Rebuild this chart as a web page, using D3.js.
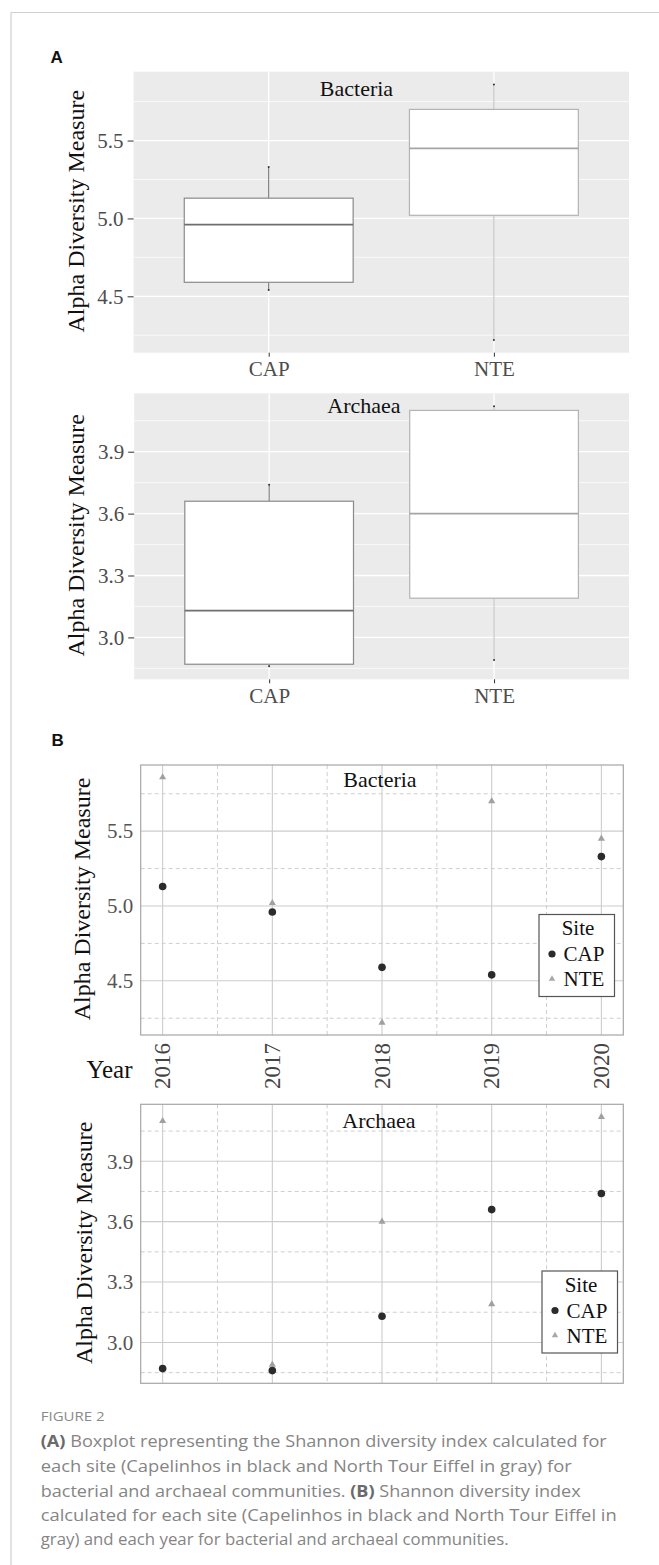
<!DOCTYPE html>
<html>
<head>
<meta charset="utf-8">
<script src="https://cdn.jsdelivr.net/npm/d3@7"></script>
<style>
  html, body { margin: 0; padding: 0; background: #ffffff; }
  svg { display: block; }
</style>
</head>
<body>
<svg id="chart" width="659" height="1565"></svg>
<script>
// ---------------- data ----------------
const years = [2016, 2017, 2018, 2019, 2020];
const sites = ["CAP", "NTE"];
const bacteriaCAP = [5.13, 4.96, 4.59, 4.54, 5.33];
const bacteriaNTE = [5.86, 5.02, 4.22, 5.70, 5.45];
const archaeaCAP = [2.87, 2.86, 3.13, 3.66, 3.74];
const archaeaNTE = [4.10, 2.89, 3.60, 3.19, 4.12];
const bacteriaTicks = [4.5, 5.0, 5.5];
const archaeaTicks = [3.0, 3.3, 3.6, 3.9];
const panelTitles = ["Bacteria", "Archaea"];
const yTitle = "Alpha Diversity Measure";
const xTitleB = "Year";
const legendTitle = "Site";
const captionHead = "FIGURE 2";
const captionLines = [
  [["(A)", true], [" Boxplot representing the Shannon diversity index calculated for", false]],
  [["each site (Capelinhos in black and North Tour Eiffel in gray) for", false]],
  [["bacterial and archaeal communities. ", false], ["(B)", true], [" Shannon diversity index", false]],
  [["calculated for each site (Capelinhos in black and North Tour Eiffel in", false]],
  [["gray) and each year for bacterial and archaeal communities.", false]]
];

// ---------------- helpers ----------------
const svg = d3.select("#chart");
const SERIF = "'Liberation Serif', 'Times New Roman', serif";
const SANS = "'Liberation Sans', Arial, sans-serif";

function expandedDomain(arrs) {
  const all = arrs.flat();
  const [lo, hi] = d3.extent(all);
  const pad = (hi - lo) * 0.05;
  return [lo - pad, hi + pad];
}
function minorTicks(ticks, domain) {
  const step = ticks[1] - ticks[0];
  const m = ticks.map(t => t - step / 2).concat([ticks[ticks.length - 1] + step / 2]);
  return m.filter(v => v > domain[0] && v < domain[1]);
}
function boxStats(vals) {
  const s = vals.slice().sort(d3.ascending);
  const q1 = d3.quantile(s, 0.25), med = d3.quantile(s, 0.5), q3 = d3.quantile(s, 0.75);
  const iqr = q3 - q1;
  const lo = d3.min(s.filter(v => v >= q1 - 1.5 * iqr));
  const hi = d3.max(s.filter(v => v <= q3 + 1.5 * iqr));
  return { q1, med, q3, lo, hi };
}

// ---------------- outer frame ----------------
svg.append("line").attr("x1", 11).attr("x2", 659).attr("y1", 12.5).attr("y2", 12.5)
  .attr("stroke", "#cfcfcf").attr("stroke-width", 1.2);
svg.append("line").attr("x1", 11).attr("x2", 11).attr("y1", 12.5).attr("y2", 1565)
  .attr("stroke", "#cfcfcf").attr("stroke-width", 1.2);

// panel letters
svg.append("text").attr("x", 50.5).attr("y", 62.5).text("A")
  .attr("font-family", SANS).attr("font-weight", "bold").attr("font-size", 17).attr("fill", "#111");
svg.append("text").attr("x", 51.5).attr("y", 746).text("B")
  .attr("font-family", SANS).attr("font-weight", "bold").attr("font-size", 17).attr("fill", "#111");

// ---------------- boxplots (A) ----------------
function boxPanel(cfg) {
  const { x0, x1, y0, y1, cap, nte, ticks, title, titleX, titleY } = cfg;
  const dom = expandedDomain([cap, nte]);
  const y = d3.scaleLinear().domain(dom).range([y1, y0]);
  const x = d3.scalePoint().domain(sites).range([x0, x1]).padding(0.6);
  const g = svg.append("g");
  g.append("rect").attr("x", x0).attr("y", y0).attr("width", x1 - x0).attr("height", y1 - y0).attr("fill", "#ebebeb");
  // minor grid
  g.selectAll(".mn").data(minorTicks(ticks, dom)).join("line")
    .attr("x1", x0).attr("x2", x1).attr("y1", d => y(d)).attr("y2", d => y(d))
    .attr("stroke", "#fff").attr("stroke-width", 0.7);
  g.selectAll(".mj").data(ticks).join("line")
    .attr("x1", x0).attr("x2", x1).attr("y1", d => y(d)).attr("y2", d => y(d))
    .attr("stroke", "#fff").attr("stroke-width", 1.3);
  g.selectAll(".vx").data(sites).join("line")
    .attr("x1", d => x(d)).attr("x2", d => x(d)).attr("y1", y0).attr("y2", y1)
    .attr("stroke", "#fff").attr("stroke-width", 1.3);

  const bw = x.step() * 0.75;
  const series = [
    { site: "CAP", vals: cap, box: "#8a8a8a", med: "#6e6e6e", wh: "#6a6a6a" },
    { site: "NTE", vals: nte, box: "#b3b3b3", med: "#a5a5a5", wh: "#b8b8b8" }
  ];
  series.forEach(s => {
    const st = boxStats(s.vals);
    const cx = x(s.site);
    g.append("line").attr("x1", cx).attr("x2", cx).attr("y1", y(st.hi)).attr("y2", y(st.q3))
      .attr("stroke", s.wh).attr("stroke-width", 1);
    g.append("line").attr("x1", cx).attr("x2", cx).attr("y1", y(st.q1)).attr("y2", y(st.lo))
      .attr("stroke", s.wh).attr("stroke-width", 1);
    g.append("rect").attr("x", cx - bw / 2).attr("y", y(st.q3)).attr("width", bw)
      .attr("height", y(st.q1) - y(st.q3)).attr("fill", "#fff").attr("stroke", s.box).attr("stroke-width", 1.2);
    g.append("line").attr("x1", cx - bw / 2).attr("x2", cx + bw / 2).attr("y1", y(st.med)).attr("y2", y(st.med))
      .attr("stroke", s.med).attr("stroke-width", 1.6);
    g.selectAll(null).data([st.lo, st.hi]).join("circle")
      .attr("cx", cx).attr("cy", d => y(d)).attr("r", 1).attr("fill", "#333");
  });

  // title
  g.append("text").attr("x", titleX).attr("y", titleY).attr("text-anchor", "middle").text(title)
    .attr("font-family", SERIF).attr("font-size", 22).attr("fill", "#111");

  // y axis
  const ya = g.append("g").attr("transform", `translate(${x0},0)`)
    .call(d3.axisLeft(y).tickValues(ticks).tickFormat(d3.format(".1f")).tickSize(6).tickPadding(4));
  ya.select(".domain").remove();
  ya.selectAll("line").attr("stroke", "#333");
  ya.selectAll("text").attr("font-family", SERIF).attr("font-size", 21).attr("fill", "#4d4d4d");

  // x axis
  const xa = g.append("g").attr("transform", `translate(0,${y1})`)
    .call(d3.axisBottom(x).tickSize(4));
  xa.select(".domain").remove();
  xa.selectAll("line").attr("stroke", "#333");
  xa.selectAll("text").attr("dy", null).attr("y", 23.5)
    .attr("font-family", SERIF).attr("font-size", 21).attr("fill", "#4d4d4d");

  // y title
  g.append("text").attr("transform", `translate(84,${(y0 + y1) / 2 - 1}) rotate(-90)`)
    .attr("text-anchor", "middle").text(yTitle)
    .attr("font-family", SERIF).attr("font-size", 24).attr("fill", "#111");
}

boxPanel({ x0: 133.6, x1: 629, y0: 71.7, y1: 352.7, cap: bacteriaCAP, nte: bacteriaNTE,
  ticks: bacteriaTicks, title: panelTitles[0], titleX: 356.5, titleY: 96 });
boxPanel({ x0: 134.2, x1: 629, y0: 393.3, y1: 679.3, cap: archaeaCAP, nte: archaeaNTE,
  ticks: archaeaTicks, title: panelTitles[1], titleX: 364, titleY: 412.7 });

// ---------------- scatter (B) ----------------
function scatterPanel(cfg) {
  const { x0, x1, y0, y1, cap, nte, ticks, title, titleX, titleY, showX, legX, legY, yTitleX } = cfg;
  const dom = expandedDomain([cap, nte]);
  const y = d3.scaleLinear().domain(dom).range([y1, y0]);
  const [ylo, yhi] = d3.extent(years);
  const xp = (yhi - ylo) * 0.05;
  const x = d3.scaleLinear().domain([ylo - xp, yhi + xp]).range([x0, x1]);
  const g = svg.append("g");
  g.append("rect").attr("x", x0).attr("y", y0).attr("width", x1 - x0).attr("height", y1 - y0).attr("fill", "#fff");

  const minorX = years.slice(0, -1).map(v => v + 0.5);
  g.selectAll(".mnx").data(minorX).join("line")
    .attr("x1", d => x(d)).attr("x2", d => x(d)).attr("y1", y0).attr("y2", y1)
    .attr("stroke", "#cfcfcf").attr("stroke-width", 1).attr("stroke-dasharray", "4,3");
  g.selectAll(".mny").data(minorTicks(ticks, dom)).join("line")
    .attr("x1", x0).attr("x2", x1).attr("y1", d => y(d)).attr("y2", d => y(d))
    .attr("stroke", "#cfcfcf").attr("stroke-width", 1).attr("stroke-dasharray", "4,3");
  g.selectAll(".mjx").data(years).join("line")
    .attr("x1", d => x(d)).attr("x2", d => x(d)).attr("y1", y0).attr("y2", y1)
    .attr("stroke", "#cccccc").attr("stroke-width", 1.1);
  g.selectAll(".mjy").data(ticks).join("line")
    .attr("x1", x0).attr("x2", x1).attr("y1", d => y(d)).attr("y2", d => y(d))
    .attr("stroke", "#cccccc").attr("stroke-width", 1.1);
  g.append("rect").attr("x", x0).attr("y", y0).attr("width", x1 - x0).attr("height", y1 - y0)
    .attr("fill", "none").attr("stroke", "#a6a6a6").attr("stroke-width", 1.2);

  const tri = d3.symbol().type(d3.symbolTriangle).size(22);
  g.selectAll(".nte").data(years.map((yr, i) => [yr, nte[i]])).join("path")
    .attr("d", tri).attr("transform", d => `translate(${x(d[0])},${y(d[1])})`).attr("fill", "#a0a0a0");
  g.selectAll(".cap").data(years.map((yr, i) => [yr, cap[i]])).join("circle")
    .attr("cx", d => x(d[0])).attr("cy", d => y(d[1])).attr("r", 3.8).attr("fill", "#2b2b2b");

  g.append("text").attr("x", titleX).attr("y", titleY).attr("text-anchor", "middle").text(title)
    .attr("font-family", SERIF).attr("font-size", 22).attr("fill", "#111");

  const ya = g.append("g").attr("transform", `translate(${x0},0)`)
    .call(d3.axisLeft(y).tickValues(ticks).tickFormat(d3.format(".1f")).tickSize(0).tickPadding(7.5));
  ya.select(".domain").remove();
  ya.selectAll("text").attr("font-family", SERIF).attr("font-size", 21).attr("fill", "#555");

  if (showX) {
    const xa = g.append("g").attr("transform", `translate(0,${y1})`)
      .call(d3.axisBottom(x).tickValues(years).tickFormat(d3.format("d")).tickSize(0));
    xa.select(".domain").remove();
    xa.selectAll("text").attr("dy", null).attr("y", null).attr("x", -8)
      .attr("transform", "rotate(-90) translate(0,7)")
      .attr("text-anchor", "end")
      .attr("font-family", SERIF).attr("font-size", 23).attr("fill", "#444");
    g.append("text").attr("x", 132.5).attr("y", 1078.3).attr("text-anchor", "end").text(xTitleB)
      .attr("font-family", SERIF).attr("font-size", 25).attr("fill", "#111");
  }

  g.append("text").attr("transform", `translate(${yTitleX},${(y0 + y1) / 2 - 1}) rotate(-90)`)
    .attr("text-anchor", "middle").text(yTitle)
    .attr("font-family", SERIF).attr("font-size", 24).attr("fill", "#111");

  // legend
  const lg = g.append("g").attr("transform", `translate(${legX},${legY})`);
  lg.append("rect").attr("x", 0).attr("y", 0).attr("width", 75.5).attr("height", 82)
    .attr("fill", "#fff").attr("stroke", "#555").attr("stroke-width", 1.2);
  lg.append("text").attr("x", 39).attr("y", 20.5).attr("text-anchor", "middle").text(legendTitle)
    .attr("font-family", SERIF).attr("font-size", 21).attr("fill", "#111");
  lg.append("circle").attr("cx", 13).attr("cy", 39.5).attr("r", 3.6).attr("fill", "#2b2b2b");
  lg.append("path").attr("d", d3.symbol().type(d3.symbolTriangle).size(18))
    .attr("transform", "translate(13,64.5)").attr("fill", "#a8a8a8");
  lg.selectAll(".lt").data(sites).join("text")
    .attr("x", 24.5).attr("y", (d, i) => 46.5 + i * 25).text(d => d)
    .attr("font-family", SERIF).attr("font-size", 21).attr("fill", "#111");
}

scatterPanel({ x0: 140.7, x1: 623.3, y0: 765, y1: 1035, cap: bacteriaCAP, nte: bacteriaNTE,
  ticks: bacteriaTicks, title: panelTitles[0], titleX: 380, titleY: 786.7, showX: true,
  legX: 539, legY: 914.5, yTitleX: 90 });
scatterPanel({ x0: 140.7, x1: 623.3, y0: 1104.3, y1: 1383.3, cap: archaeaCAP, nte: archaeaNTE,
  ticks: archaeaTicks, title: panelTitles[1], titleX: 379, titleY: 1128.3, showX: false,
  legX: 542, legY: 1271, yTitleX: 92 });

// ---------------- caption ----------------
const CAPF = "'Open Sans', 'Noto Sans', sans-serif";
svg.append("text").attr("x", 40.7).attr("y", 1420.7).text(captionHead)
  .attr("font-family", CAPF).attr("font-size", 12.5).attr("fill", "#8a8a8a")
  .attr("textLength", 64).attr("lengthAdjust", "spacingAndGlyphs");
const capWidths = [566, 531, 540, 576, 468];
const capBase = [1446.7, 1471.7, 1496.7, 1520.9, 1545.2];
captionLines.forEach((line, i) => {
  const t = svg.append("text").attr("x", 40.7).attr("y", capBase[i])
    .attr("font-family", CAPF).attr("font-size", 16.5).attr("fill", "#858585")
    .attr("textLength", capWidths[i]).attr("lengthAdjust", "spacingAndGlyphs");
  line.forEach(([s, b]) => {
    t.append("tspan").text(s).attr("font-weight", b ? "bold" : "normal")
      .attr("fill", b ? "#6a6a6a" : "#858585").style("white-space", "pre");
  });
  t.attr("xml:space", "preserve");
});
</script>
</body>
</html>
